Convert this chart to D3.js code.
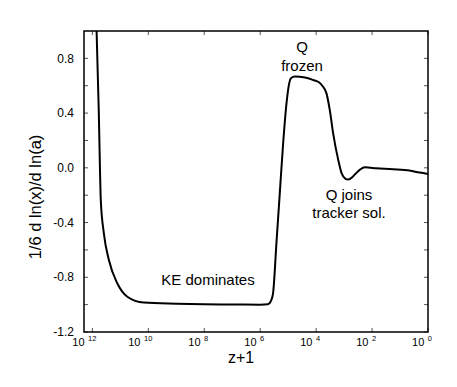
<!DOCTYPE html>
<html>
<head>
<meta charset="utf-8">
<script src="https://cdn.jsdelivr.net/npm/d3@7"></script>
<style>
  body { margin: 0; background: #fff; }
  svg { font-family: "Liberation Sans", Arial, sans-serif; }
</style>
</head>
<body>
<div id="chart"></div>
<script>
// log10(z+1) and 1/6 dln(x)/dln(a)
const logZ = [11.85, 11.77, 11.73, 11.70, 11.59, 11.41, 11.11, 10.75, 10.16, 9.0, 8.0, 7.0, 6.0,
  5.72, 5.62, 5.54, 5.42, 5.30, 5.18, 5.06, 4.97, 4.90, 4.76, 4.40, 4.11, 3.90, 3.78, 3.63,
  3.51, 3.39, 3.21, 3.09, 2.95, 2.86, 2.75, 2.60, 2.44, 2.26, 2.05, 1.85, 1.25, 0.66, 0.30, 0.0];
const values = [1.0, 0.40, 0.0, -0.235, -0.479, -0.674, -0.844, -0.942, -0.985, -0.993, -0.997, -0.999, -1.0,
  -0.997, -0.975, -0.917, -0.552, -0.187, 0.178, 0.47, 0.61, 0.655, 0.667, 0.66, 0.642, 0.625, 0.60, 0.544,
  0.42, 0.25, 0.058, -0.039, -0.08, -0.085, -0.075, -0.045, -0.015, 0.005, 0.0, -0.003, -0.010, -0.02, -0.035, -0.045];

const xExponents = [12, 10, 8, 6, 4, 2, 0];
const yTicks = [-1.2, -1.0, -0.8, -0.6, -0.4, -0.2, 0.0, 0.2, 0.4, 0.6, 0.8];
const yLabels = [-1.2, -0.8, -0.4, 0.0, 0.4, 0.8];

const annotations = [
  { text: "Q", x: 302, y: 52 },
  { text: "frozen", x: 302, y: 71 },
  { text: "Q joins", x: 349, y: 200 },
  { text: "tracker sol.", x: 349, y: 218 },
  { text: "KE dominates", x: 208, y: 285 }
];

const width = 457, height = 387;
const mLeft = 84, mRight = 428, mTop = 31, mBottom = 332;

const svg = d3.select("#chart").append("svg")
  .attr("width", width)
  .attr("height", height);

const x = d3.scaleLinear().domain([12.3, 0]).range([mLeft, mRight]);
const y = d3.scaleLinear().domain([-1.2, 1.0]).range([mBottom, mTop]);

// clip for the curve
svg.append("defs").append("clipPath").attr("id", "clip")
  .append("rect")
  .attr("x", mLeft).attr("y", mTop)
  .attr("width", mRight - mLeft).attr("height", mBottom - mTop);

const tickLen = 4;
const axes = svg.append("g").attr("stroke", "#555").attr("stroke-width", 1);

// y ticks, left and right, pointing inward
yTicks.forEach(v => {
  axes.append("line").attr("x1", mLeft).attr("x2", mLeft + tickLen)
    .attr("y1", y(v)).attr("y2", y(v));
  axes.append("line").attr("x1", mRight).attr("x2", mRight - tickLen)
    .attr("y1", y(v)).attr("y2", y(v));
});

// x ticks, top and bottom
xExponents.forEach(e => {
  axes.append("line").attr("x1", x(e)).attr("x2", x(e))
    .attr("y1", mBottom).attr("y2", mBottom - tickLen);
  axes.append("line").attr("x1", x(e)).attr("x2", x(e))
    .attr("y1", mTop).attr("y2", mTop + tickLen);
});

// y tick labels
svg.append("g").selectAll("text")
  .data(yLabels)
  .enter()
  .append("text")
  .attr("x", mLeft - 10)
  .attr("y", d => y(d))
  .attr("dy", "0.35em")
  .attr("text-anchor", "end")
  .style("font-size", "12px")
  .text(d => d3.format(".1f")(d).replace("−", "-"));

// x tick labels: 10 with exponent
const xl = svg.append("g").selectAll("text")
  .data(xExponents)
  .enter()
  .append("text")
  .attr("x", d => x(d) + 4)
  .attr("y", 346)
  .attr("text-anchor", "end");
xl.append("tspan").style("font-size", "11px").text("10");
xl.append("tspan").attr("dx", 3.5).attr("dy", -5.5).style("font-size", "7.5px").text(d => d);

// frame
svg.append("rect")
  .attr("x", mLeft).attr("y", mTop)
  .attr("width", mRight - mLeft).attr("height", mBottom - mTop)
  .attr("fill", "none")
  .attr("stroke", "#000")
  .attr("stroke-width", 1.5);

// curve
const pts = logZ.map((l, i) => [l, values[i]]);
const line = d3.line()
  .x(d => x(d[0]))
  .y(d => y(d[1]))
  .curve(d3.curveMonotoneX);

svg.append("path")
  .datum(pts)
  .attr("clip-path", "url(#clip)")
  .attr("d", line)
  .attr("fill", "none")
  .attr("stroke", "#000")
  .attr("stroke-width", 2);

// annotations
svg.append("g").selectAll("text")
  .data(annotations)
  .enter()
  .append("text")
  .attr("x", d => d.x)
  .attr("y", d => d.y)
  .attr("text-anchor", "middle")
  .style("font-size", "15px")
  .text(d => d.text);

// axis titles
svg.append("text")
  .attr("x", 241)
  .attr("y", 363)
  .attr("text-anchor", "middle")
  .style("font-size", "16px")
  .text("z+1");

svg.append("text")
  .attr("transform", "translate(41,197) rotate(-90)")
  .attr("text-anchor", "middle")
  .style("font-size", "16.5px")
  .text("1/6 d ln(x)/d ln(a)");
</script>
</body>
</html>
